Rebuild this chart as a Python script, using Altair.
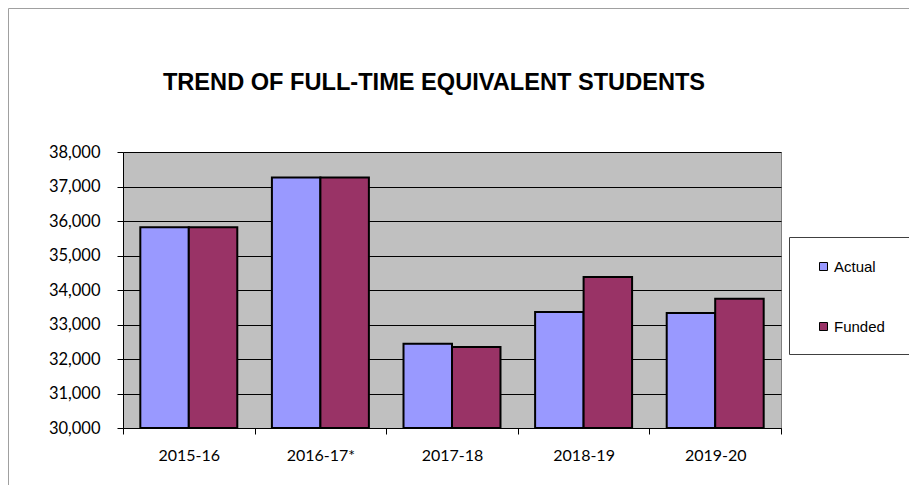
import altair as alt
import pandas as pd

years = ["2015-16", "2016-17*", "2017-18", "2018-19", "2019-20"]
actual = [35820, 37260, 32440, 33360, 33330]
funded = [35820, 37260, 32350, 34380, 33750]
series = ["Actual", "Funded"]
colors = ["#9999FF", "#993366"]
y_ticks = list(range(30000, 38001, 1000))
title_text = ["TREND OF FULL-TIME EQUIVALENT STUDENTS"]

rows = []
for i, yr in enumerate(years):
    rows.append({"year": yr, "series": "Actual", "value": actual[i]})
    rows.append({"year": yr, "series": "Funded", "value": funded[i]})
df = pd.DataFrame(rows)

W, H = 658, 276
PAD = {"left": 115, "top": 144, "right": 901 - 115 - W, "bottom": 477 - 144 - H}

bars = alt.Chart(df).mark_bar(stroke="black", strokeWidth=2).encode(
    x=alt.X(
        "year:N", sort=years,
        scale=alt.Scale(paddingInner=0, paddingOuter=0),
        axis=alt.Axis(title=None, labelAngle=0, tickBand="extent", grid=False,
                      labelFont="Lato", labelFontSize=16, labelColor="black",
                      domainColor="black", tickColor="black", tickSize=6,
                      labelPadding=13),
    ),
    xOffset=alt.XOffset("series:N", sort=series,
                        scale=alt.Scale(paddingOuter=0.357, paddingInner=0)),
    y=alt.Y(
        "value:Q",
        scale=alt.Scale(domain=[30000, 38000], nice=False, zero=False),
        axis=alt.Axis(title=None, values=y_ticks, format=",d", grid=True,
                      gridColor="black", gridWidth=1, gridOpacity=1,
                      labelFont="Lato", labelFontSize=16.5,
                      labelColor="black", domainColor="black", tickColor="black",
                      tickSize=6, labelPadding=17),
    ),
    y2=alt.datum(30000),
    color=alt.Color(
        "series:N", sort=series,
        scale=alt.Scale(domain=series, range=colors),
        legend=alt.Legend(
            title=None, orient="none", legendX=666, legendY=85,
            padding=22, rowPadding=44, symbolOffset=5, symbolType="square",
            symbolSize=64, symbolStrokeColor="black", symbolStrokeWidth=1,
            labelFont="Liberation Sans", labelFontSize=15, labelColor="black",
            labelOffset=3,
        ),
    ),
)

title = alt.Chart(pd.DataFrame({"t": title_text})).mark_text(
    font="Liberation Sans", fontSize=23.6, fontWeight="bold", align="center",
    baseline="alphabetic", color="black",
).encode(text="t:N", x=alt.value(434 - 123), y=alt.value(89.5 - 152))

border = alt.Chart(pd.DataFrame({"b": [0]})).mark_rect(
    fillOpacity=0, stroke="#A0A0A0", strokeWidth=1
).encode(x=alt.value(-114.5), y=alt.value(-143.5), x2=alt.value(815), y2=alt.value(360))

legend_box = alt.Chart(pd.DataFrame({"b": [0]})).mark_rect(
    fill="white", stroke="#404040", strokeWidth=1
).encode(x=alt.value(666.5), y=alt.value(85.5), x2=alt.value(815), y2=alt.value(202.5))

chart = alt.layer(border, legend_box, bars, title).properties(
    width=W, height=H, autosize=alt.AutoSizeParams(type="none"), padding=PAD,
    background="white",
).configure_view(fill="#C0C0C0", stroke="#808080", strokeWidth=1)

chart.save("out.html", embed_options={"renderer": "svg", "actions": False})
